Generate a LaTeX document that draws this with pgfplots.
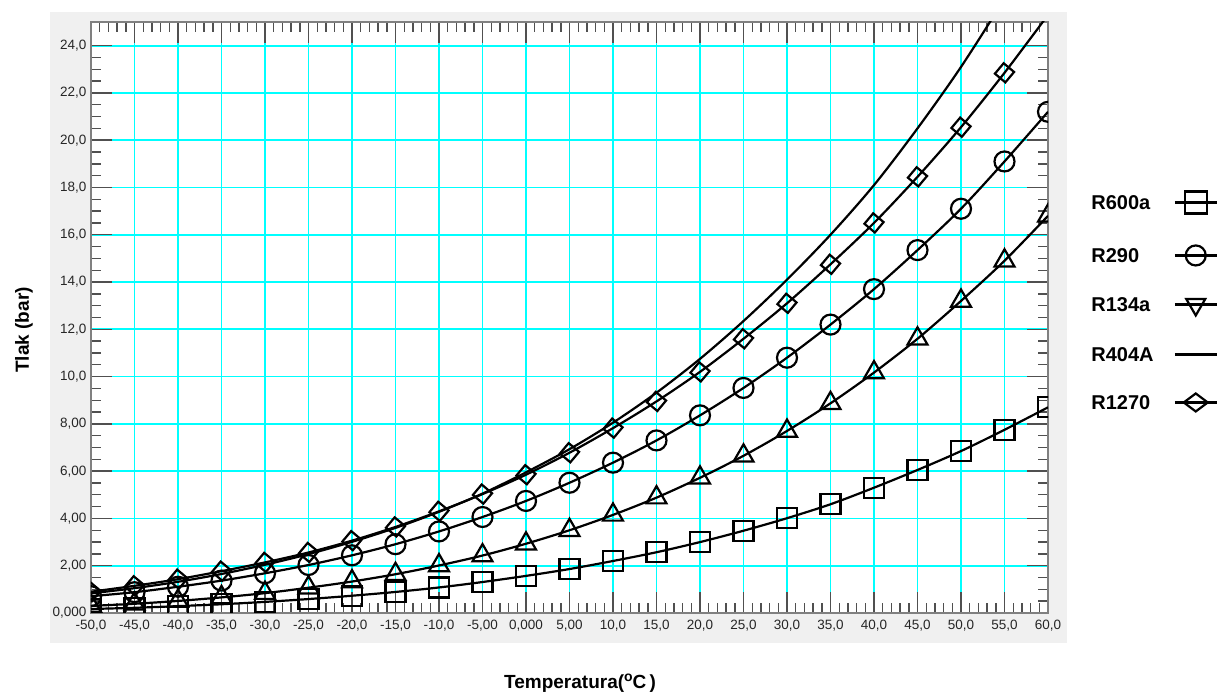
\documentclass[border=0pt]{standalone}
\usepackage{fontspec}
\setmainfont{Liberation Sans}
\usepackage{pgfplots}
\usepackage{pgfplotstable}
\pgfplotsset{compat=1.18}
\definecolor{panel}{HTML}{F0F0F0}
\definecolor{tickgray}{HTML}{505050}
\definecolor{gridcyan}{HTML}{00FFFF}

% saturation pressure [bar] vs temperature [C]
\pgfplotstableread{
T    R600a R290  R134a R404A R1270
-50  0.17  0.71  0.30  0.83  0.90
-45  0.22  0.88  0.39  1.05  1.15
-40  0.29  1.11  0.51  1.32  1.43
-35  0.37  1.37  0.66  1.65  1.77
-30  0.47  1.68  0.84  2.04  2.14
-25  0.59  2.03  1.07  2.49  2.56
-20  0.73  2.44  1.33  3.01  3.06
-15  0.89  2.91  1.64  3.60  3.64
-10  1.08  3.45  2.01  4.28  4.30
-5   1.31  4.06  2.43  5.05  5.03
0    1.57  4.74  2.93  5.95  5.85
5    1.86  5.51  3.50  6.93  6.78
10   2.20  6.36  4.15  8.05  7.82
15   2.57  7.30  4.88  9.32  8.95
20   3.00  8.36  5.72  10.75 10.20
25   3.48  9.52  6.65  12.35 11.60
30   4.01  10.80 7.70  14.10 13.10
35   4.60  12.20 8.87  16.00 14.75
40   5.30  13.70 10.17 18.10 16.50
45   6.05  15.35 11.60 20.50 18.45
50   6.85  17.10 13.20 23.10 20.55
55   7.75  19.10 14.90 26.00 22.85
60   8.70  21.20 16.80 29.20 25.30
}\data

\begin{document}
\begin{tikzpicture}[x=1pt,y=1pt]
\fill[panel] (50,52) rectangle (1067,683);
\begin{axis}[
  at={(91pt,82pt)}, anchor=south west,
  scale only axis, width=957pt, height=591pt,
  xmin=-50, xmax=60, ymin=0, ymax=25,
  axis background/.style={fill=white},
  axis line style={draw=gray, line width=1.8pt},
  xtick={-50,-45,...,60},
  xticklabels={{-50,0},{-45,0},{-40,0},{-35,0},{-30,0},{-25,0},{-20,0},{-15,0},{-10,0},{-5,00},{0,000},{5,00},{10,0},{15,0},{20,0},{25,0},{30,0},{35,0},{40,0},{45,0},{50,0},{55,0},{60,0}},
  ytick={0,2,...,24},
  yticklabels={{0,000},{2,00},{4,00},{6,00},{8,00},{10,0},{12,0},{14,0},{16,0},{18,0},{20,0},{22,0},{24,0}},
  minor x tick num=4, minor y tick num=3,
  tick align=inside,
  major tick length=21pt, minor tick length=10pt,
  every tick/.style={draw=tickgray, line width=1.4pt},
  grid=major,
  major grid style={draw=gridcyan, line width=1.8pt},
  tick label style={font=\fontsize{13.5}{15}\selectfont, text=black!85},
  xticklabel style={yshift=-4pt},
  yticklabel style={xshift=-1pt},
  xlabel={Temperatura(\raisebox{0.7ex}{\fontsize{14}{14}\selectfont o}C\,)},
  xlabel style={font=\fontsize{19}{22}\selectfont\bfseries, at={(axis description cs:0.511,-0.118)}, anchor=center},
  ylabel={Tlak (bar)},
  ylabel style={font=\fontsize{19}{22}\selectfont\bfseries, at={(axis description cs:-0.070,0.479)}, anchor=center, rotate=0},
  every axis plot/.append style={black, line width=2.2pt, smooth},
  clip marker paths=true,
  legend plot pos=right,
  legend cell align=left,
  legend image code/.code={\draw[mark repeat=2,mark phase=2,#1] plot coordinates {(0pt,0pt) (21pt,0pt) (42pt,0pt)};},
  legend style={at={(axis description cs:1.042,0.717)}, anchor=north west, draw=none, fill=none,
    font=\fontsize{20}{22}\selectfont\bfseries, row sep=32pt, column sep=20pt,
    nodes={inner sep=0pt, text height=14pt, text depth=0pt}},
]
\addplot[mark=square, mark size=10pt, forget plot] table[x=T, y=R600a] {\data};
\addplot[mark=o, mark size=10pt, forget plot] table[x=T, y=R290] {\data};
\addplot[mark=triangle, mark size=11.5pt, forget plot] table[x=T, y=R134a] {\data};
\addplot[no marks, forget plot] table[x=T, y=R404A] {\data};
\addplot[mark=square, mark size=6.8pt, mark options={rotate=50}, forget plot] table[x=T, y=R1270] {\data};

\addlegendimage{black, line width=2.2pt, mark=square, mark size=11pt}
\addlegendentry{R600a}
\addlegendimage{black, line width=2.2pt, mark=o, mark size=10pt}
\addlegendentry{R290}
\addlegendimage{black, line width=2.2pt, mark=triangle, mark size=11pt, mark options={rotate=180}}
\addlegendentry{R134a}
\addlegendimage{black, line width=2.2pt}
\addlegendentry{R404A}
\addlegendimage{black, line width=2.2pt, mark=diamond, mark size=12pt, mark options={rotate=90}}
\addlegendentry{R1270}
\end{axis}
\path (0,0) rectangle (1221,695);
\end{tikzpicture}
\end{document}
